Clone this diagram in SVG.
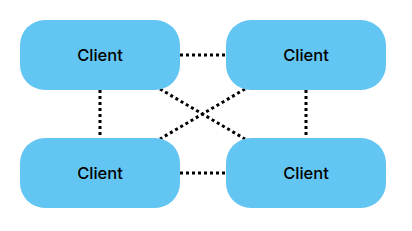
<svg xmlns="http://www.w3.org/2000/svg" width="412" height="231" viewBox="0 0 412 231">
<style>
.box{fill:#63c5f2}
.lbl{font-family:Inter,"Liberation Sans",Arial,sans-serif;font-size:16.5px;font-weight:500;fill:#000;text-anchor:middle}
.c{stroke:#000;stroke-width:3;stroke-dasharray:3 3;fill:none}
</style>
<rect width="412" height="231" fill="#fff"/>
<g id="connectors">
<line class="c" x1="180" y1="55" x2="226" y2="55"/>
<line class="c" x1="180" y1="173" x2="226" y2="173"/>
<line class="c" x1="100" y1="90" x2="100" y2="138"/>
<line class="c" x1="306" y1="90" x2="306" y2="138"/>
<line class="c" x1="160" y1="89" x2="245" y2="139"/>
<line class="c" x1="245" y1="89" x2="160" y2="139"/>
</g>
<g id="n1"><rect class="box" x="20" y="20" width="160" height="70" rx="25"/><text class="lbl" x="100" y="61">Client</text></g>
<g id="n2"><rect class="box" x="226" y="20" width="160" height="70" rx="25"/><text class="lbl" x="306" y="61">Client</text></g>
<g id="n3"><rect class="box" x="20" y="138" width="160" height="70" rx="25"/><text class="lbl" x="100" y="179">Client</text></g>
<g id="n4"><rect class="box" x="226" y="138" width="160" height="70" rx="25"/><text class="lbl" x="306" y="179">Client</text></g>
</svg>
